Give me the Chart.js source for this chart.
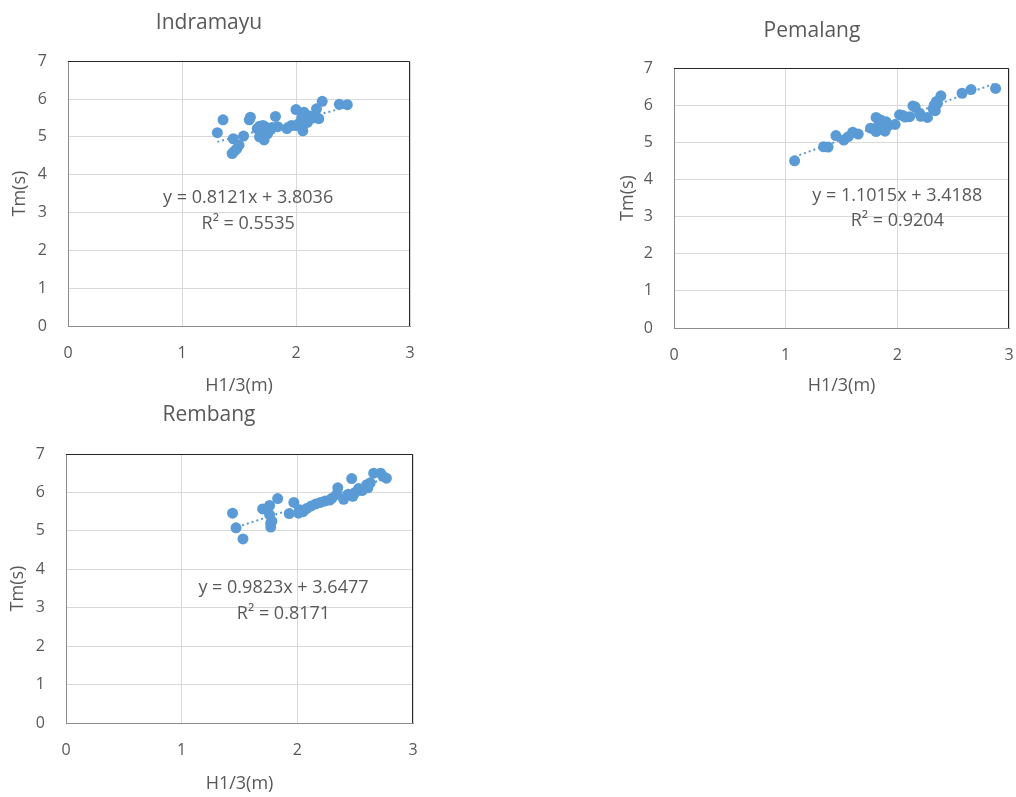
<!DOCTYPE html>
<html>
<head>
<meta charset="utf-8">
<script src="https://cdn.jsdelivr.net/npm/chart.js@4.4.0/dist/chart.umd.min.js"></script>
<style>
  body { margin: 0; background: #fff; width: 1016px; height: 797px; position: relative; overflow: hidden; }
  canvas { position: absolute; }
</style>
</head>
<body>
<canvas id="indramayuChart" width="420" height="400" style="left:0px;top:0px"></canvas>
<canvas id="pemalangChart" width="416" height="400" style="left:600px;top:0px"></canvas>
<canvas id="rembangChart" width="420" height="397" style="left:0px;top:400px"></canvas>
<script>
// eksen etiketleri
const xTicks = [0, 1, 2, 3];
const yTicks = [0, 1, 2, 3, 4, 5, 6, 7];

// Indramayu
const indramayuH = [1.31, 1.36, 1.44, 1.46, 1.48, 1.45, 1.50, 1.54, 1.59, 1.60, 1.66, 1.68, 1.69, 1.70, 1.72, 1.73, 1.74, 1.76, 1.78, 1.68, 1.71, 1.75, 1.79, 1.82, 1.84, 1.92, 1.96, 2.00, 2.00, 2.03, 2.05, 2.06, 2.07, 2.08, 2.10, 2.12, 2.15, 2.18, 2.20, 2.23, 2.38, 2.45];
const indramayuT = [5.11, 5.45, 4.56, 4.62, 4.68, 4.95, 4.78, 5.02, 5.45, 5.52, 5.22, 5.28, 5.12, 5.05, 4.92, 5.18, 5.25, 5.15, 5.20, 5.00, 5.30, 5.08, 5.25, 5.54, 5.27, 5.22, 5.30, 5.72, 5.30, 5.35, 5.50, 5.16, 5.65, 5.45, 5.38, 5.55, 5.50, 5.74, 5.48, 5.94, 5.86, 5.85];
const indramayuFit = [0.8121, 3.8036, 0.5535]; // egim, kesisim, R2

// Pemalang
const pemalangH = [1.08, 1.34, 1.38, 1.45, 1.52, 1.56, 1.60, 1.65, 1.76, 1.81, 1.81, 1.83, 1.85, 1.86, 1.88, 1.89, 1.90, 1.92, 1.84, 1.98, 2.02, 2.05, 2.07, 2.11, 2.14, 2.16, 2.20, 2.21, 2.27, 2.32, 2.33, 2.34, 2.35, 2.36, 2.39, 2.58, 2.66, 2.88];
const pemalangT = [4.50, 4.88, 4.87, 5.18, 5.06, 5.15, 5.27, 5.22, 5.38, 5.67, 5.29, 5.45, 5.60, 5.35, 5.50, 5.30, 5.55, 5.45, 5.40, 5.48, 5.74, 5.72, 5.68, 5.69, 5.98, 5.95, 5.78, 5.70, 5.67, 5.90, 6.00, 5.85, 6.10, 6.05, 6.25, 6.32, 6.42, 6.45];
const pemalangFit = [1.1015, 3.4188, 0.9204];

// Rembang
const rembangH = [1.44, 1.47, 1.53, 1.70, 1.76, 1.76, 1.77, 1.78, 1.77, 1.83, 1.93, 1.97, 2.01, 2.02, 2.05, 2.08, 2.12, 2.16, 2.20, 2.24, 2.28, 2.30, 2.34, 2.35, 2.40, 2.44, 2.47, 2.48, 2.50, 2.53, 2.56, 2.60, 2.61, 2.63, 2.66, 2.72, 2.74, 2.77];
const rembangT = [5.46, 5.08, 4.79, 5.57, 5.66, 5.42, 5.20, 5.25, 5.10, 5.84, 5.45, 5.74, 5.46, 5.55, 5.50, 5.58, 5.65, 5.70, 5.74, 5.78, 5.80, 5.85, 5.95, 6.12, 5.82, 5.95, 6.36, 5.90, 6.00, 6.10, 6.05, 6.20, 6.12, 6.25, 6.50, 6.50, 6.42, 6.37];
const rembangFit = [0.9823, 3.6477, 0.8171];

const blue = '#5B9BD5';
const textGray = '#595959';
Chart.defaults.font.family = "'Open Sans', sans-serif";
Chart.defaults.color = textGray;

// cizim alani ust/sag kenar cizgisi
const frameLines = {
    id: 'frameLines',
    afterDraw(chart) {
        const { ctx, chartArea: a } = chart;
        const top = Math.round(a.top) + 0.5, right = Math.round(a.right) - 0.5;
        ctx.save();
        ctx.strokeStyle = '#262626';
        ctx.lineWidth = 1;
        ctx.beginPath();
        ctx.moveTo(a.left, top);
        ctx.lineTo(right, top);
        ctx.lineTo(right, a.bottom);
        ctx.stroke();
        ctx.restore();
    }
};

// trend denklemi yazisi
const fitLabel = {
    id: 'fitLabel',
    afterDraw(chart, args, opts) {
        const { ctx, scales } = chart;
        const x = scales.x.getPixelForValue(opts.at[0]);
        ctx.save();
        ctx.font = "18px 'Open Sans', sans-serif";
        ctx.fillStyle = textGray;
        ctx.textAlign = 'center';
        ctx.textBaseline = 'middle';
        ctx.fillText('y = ' + opts.fit[0].toFixed(4) + 'x + ' + opts.fit[1].toFixed(4), x, scales.y.getPixelForValue(opts.at[1]));
        ctx.fillText('R² = ' + opts.fit[2].toFixed(4), x, scales.y.getPixelForValue(opts.at[2]));
        ctx.restore();
    }
};

function makeChart(id, title, hs, ts, fit, lay) {
    const points = hs.map((h, i) => ({ x: h, y: ts[i] }));
    const x0 = Math.min(...hs), x1 = Math.max(...hs);
    const trend = [{ x: x0, y: fit[0] * x0 + fit[1] }, { x: x1, y: fit[0] * x1 + fit[1] }];
    return new Chart(document.getElementById(id), {
        type: 'scatter',
        data: {
            datasets: [{
                data: points,
                backgroundColor: blue,
                borderWidth: 0,
                pointRadius: 5.5,
                order: 2
            }, {
                type: 'line',
                data: trend,
                borderColor: blue,
                borderWidth: 2,
                borderDash: [2, 3],
                pointRadius: 0,
                fill: false,
                order: 1
            }]
        },
        options: {
            responsive: false,
            animation: false,
            devicePixelRatio: 1,
            layout: { padding: lay.pad },
            plugins: {
                legend: { display: false },
                tooltip: { enabled: false },
                title: {
                    display: true,
                    text: title,
                    color: textGray,
                    font: { size: 21, weight: 'normal' },
                    padding: lay.titlePad
                },
                fitLabel: { fit: fit, at: lay.labelAt }
            },
            scales: {
                x: {
                    type: 'linear',
                    min: 0, max: 3,
                    afterBuildTicks: s => { s.ticks = xTicks.map(v => ({ value: v })); },
                    afterFit: s => { s.height = lay.xHeight; },
                    grid: { color: '#D9D9D9', tickLength: 18, tickColor: 'rgba(0,0,0,0)' },
                    border: { color: '#8C8C8C', width: 1 },
                    ticks: { font: { size: 16 }, padding: 0 },
                    title: { display: true, text: 'H1/3(m)', font: { size: 18 }, padding: { top: 0, bottom: lay.xTitleBottom } }
                },
                y: {
                    type: 'linear',
                    min: 0, max: 7,
                    afterBuildTicks: s => { s.ticks = yTicks.map(v => ({ value: v })); },
                    afterFit: s => { s.width = lay.yWidth; },
                    grid: { color: '#D9D9D9', tickLength: 21, tickColor: 'rgba(0,0,0,0)' },
                    border: { color: '#8C8C8C', width: 1 },
                    ticks: { font: { size: 16 }, padding: 0 },
                    title: { display: true, text: 'Tm(s)', font: { size: 18 }, padding: { top: lay.yTitleTop, bottom: 0 } }
                }
            }
        },
        plugins: [frameLines, fitLabel]
    });
}

makeChart('indramayuChart', 'Indramayu', indramayuH, indramayuT, indramayuFit, {
    pad: { left: 8, right: 10, top: 0, bottom: 0 },
    titlePad: { top: 10, bottom: 26 },
    yWidth: 60, xHeight: 74, xTitleBottom: 3.5, yTitleTop: 1.2,
    labelAt: [1.58, 3.38, 2.69]
});
makeChart('pemalangChart', 'Pemalang', pemalangH, pemalangT, pemalangFit, {
    pad: { left: 15, right: 7, top: 0, bottom: 0 },
    titlePad: { top: 18.4, bottom: 24.4 },
    yWidth: 59, xHeight: 72, xTitleBottom: 3.2, yTitleTop: 1.7,
    labelAt: [2.0, 3.55, 2.88]
});
makeChart('rembangChart', 'Rembang', rembangH, rembangT, rembangFit, {
    pad: { left: 5, right: 7, top: 0, bottom: 0 },
    titlePad: { top: 2.7, bottom: 26.1 },
    yWidth: 61, xHeight: 74, xTitleBottom: 2.5, yTitleTop: 1.7,
    labelAt: [1.88, 3.51, 2.84]
});
</script>
</body>
</html>
